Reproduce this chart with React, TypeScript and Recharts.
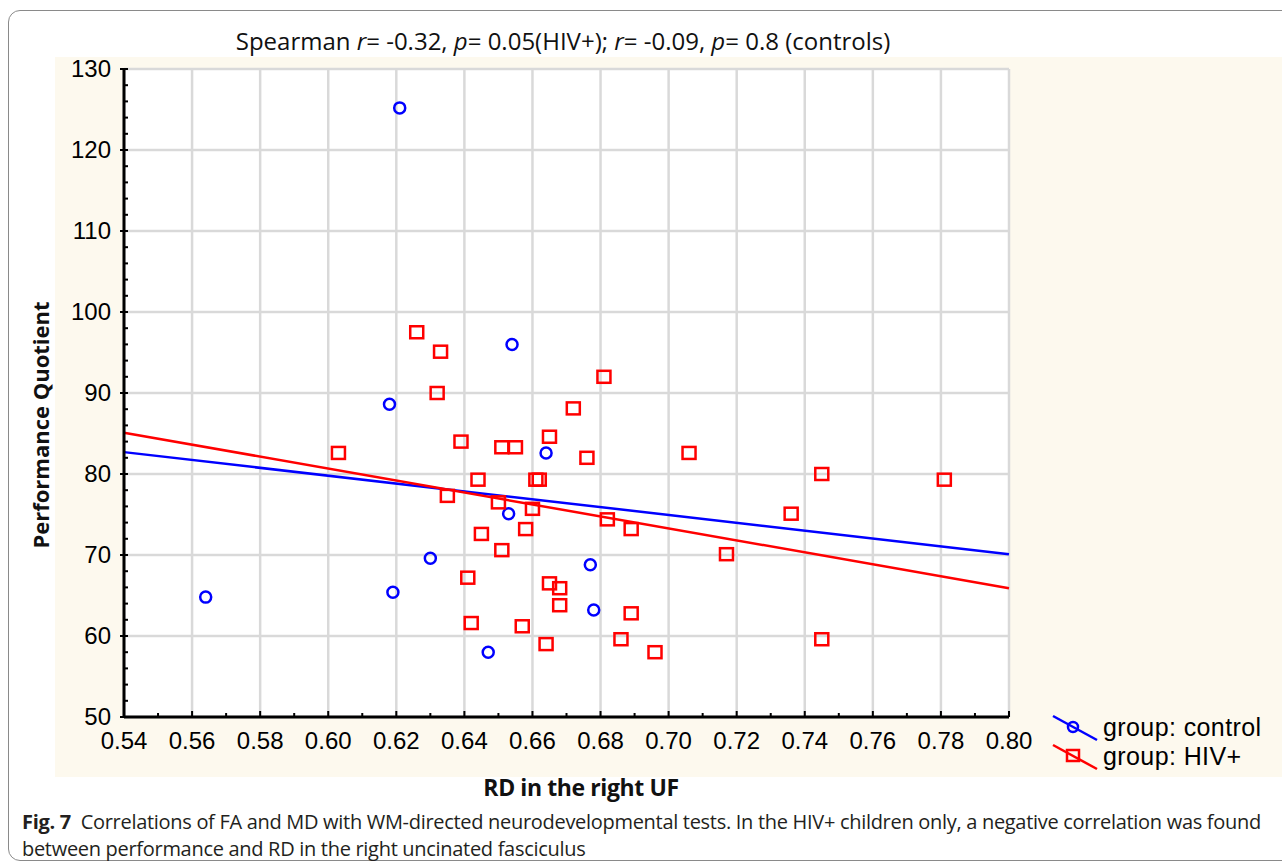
import React from 'react';
import { ScatterChart, Scatter, XAxis, YAxis, CartesianGrid, ReferenceLine } from 'recharts';

// RD in the right UF vs performance quotient
const controlRD = [0.621, 0.618, 0.654, 0.664, 0.653, 0.630, 0.619, 0.564, 0.677, 0.678, 0.647];
const controlPQ = [125.2, 88.6, 96.0, 82.6, 75.1, 69.6, 65.4, 64.8, 68.8, 63.2, 58.0];

const hivRD = [
  0.626, 0.633, 0.632, 0.681, 0.672, 0.665, 0.639, 0.651, 0.655, 0.603, 0.676, 0.706, 0.745,
  0.781, 0.644, 0.661, 0.662, 0.635, 0.650, 0.660, 0.682, 0.736, 0.689, 0.658, 0.645, 0.651,
  0.717, 0.641, 0.665, 0.668, 0.668, 0.689, 0.642, 0.657, 0.686, 0.664, 0.696, 0.745,
];
const hivPQ = [
  97.5, 95.1, 90.0, 92.0, 88.1, 84.6, 84.0, 83.3, 83.3, 82.6, 82.0, 82.6, 80.0,
  79.3, 79.3, 79.3, 79.3, 77.3, 76.5, 75.7, 74.4, 75.1, 73.2, 73.2, 72.6, 70.6,
  70.1, 67.2, 66.5, 65.9, 63.8, 62.8, 61.6, 61.2, 59.6, 59.0, 58.0, 59.6,
];

// fitted lines, read at both ends of the x range
const controlFit = [82.7, 70.1];
const hivFit = [85.1, 65.9];

const xMajor = ['0.54', '0.56', '0.58', '0.60', '0.62', '0.64', '0.66', '0.68', '0.70', '0.72', '0.74', '0.76', '0.78', '0.80'];
const xAll = ['0.54', '0.55', '0.56', '0.57', '0.58', '0.59', '0.60', '0.61', '0.62', '0.63', '0.64', '0.65', '0.66', '0.67', '0.68', '0.69', '0.70', '0.71', '0.72', '0.73', '0.74', '0.75', '0.76', '0.77', '0.78', '0.79', '0.80'];
const yMajor = [50, 60, 70, 80, 90, 100, 110, 120, 130];
const yAll = [50, 52, 54, 56, 58, 60, 62, 64, 66, 68, 70, 72, 74, 76, 78, 80, 82, 84, 86, 88, 90, 92, 94, 96, 98, 100, 102, 104, 106, 108, 110, 112, 114, 116, 118, 120, 122, 124, 126, 128, 130];

const xMajorNum = xMajor.map(Number);
const xAllNum = xAll.map(Number);
const X_DOMAIN: [number, number] = [0.54, 0.8];
const Y_DOMAIN: [number, number] = [50, 130];

const controlData = controlRD.map((x, i) => ({ x, y: controlPQ[i] }));
const hivData = hivRD.map((x, i) => ({ x, y: hivPQ[i] }));

const BLUE = '#0000ff';
const RED = '#ff0000';
const TICK_FONT = '"Liberation Sans", Arial, sans-serif';
const TEXT_FONT = '"Open Sans", sans-serif';

const isMajorX = (v: number) => xMajorNum.some((m) => Math.abs(m - v) < 1e-6);

const BottomTick = (props: any) => {
  const { x, y, payload } = props;
  const major = isMajorX(payload.value);
  return (
    <g>
      <line x1={x} x2={x} y1={y} y2={y - (major ? 6 : 4)} stroke="#000" strokeWidth={2} />
      {major && (
        <text x={x} y={y + 32} textAnchor="middle" fontSize={24} fontFamily={TICK_FONT} fill="#000">
          {payload.value.toFixed(2)}
        </text>
      )}
    </g>
  );
};

const TopTick = (props: any) => {
  const { x, y, payload } = props;
  const major = isMajorX(payload.value);
  return <line x1={x} x2={x} y1={y} y2={y + (major ? 5 : 4)} stroke="#000" strokeWidth={2} />;
};

const LeftTick = (props: any) => {
  const { x, y, payload } = props;
  const major = payload.value % 10 === 0;
  return (
    <g>
      <line x1={major ? x - 4 : x} x2={x + 4} y1={y} y2={y} stroke="#000" strokeWidth={2} />
      {major && (
        <text x={x - 13} y={y + 8} textAnchor="end" fontSize={24} fontFamily={TICK_FONT} fill="#000">
          {payload.value}
        </text>
      )}
    </g>
  );
};

const RightTick = (props: any) => {
  const { x, y } = props;
  return <line x1={x + 2} x2={x - 4} y1={y} y2={y} stroke="#000" strokeWidth={2} />;
};

const Circle = (props: any) => {
  const { cx, cy } = props;
  return <circle cx={cx} cy={cy} r={5.5} fill="none" stroke={BLUE} strokeWidth={2.5} />;
};

const Square = (props: any) => {
  const { cx, cy } = props;
  return <rect x={cx - 6.5} y={cy - 6} width={13} height={12} fill="none" stroke={RED} strokeWidth={2.5} />;
};

// grid only at the labelled ticks, mapped onto the plot area
const gridX = ({ offset }: any) =>
  offset ? xMajorNum.map((v) => offset.left + ((v - X_DOMAIN[0]) / (X_DOMAIN[1] - X_DOMAIN[0])) * offset.width) : [];
const gridY = ({ offset }: any) =>
  offset ? yMajor.map((v) => offset.top + ((Y_DOMAIN[1] - v) / (Y_DOMAIN[1] - Y_DOMAIN[0])) * offset.height) : [];

const LegendIcon = ({ color, kind }: { color: string; kind: 'circle' | 'square' }) => (
  <svg width={48} height={28} style={{ display: 'block' }}>
    <line x1={2} y1={2} x2={46} y2={26} stroke={color} strokeWidth={2.5} />
    {kind === 'circle' ? (
      <circle cx={22} cy={13} r={5} fill="none" stroke={color} strokeWidth={2.5} />
    ) : (
      <rect x={16} y={7} width={12} height={11} fill="none" stroke={color} strokeWidth={2.5} />
    )}
  </svg>
);

const legendItems = [
  { label: 'group: control', color: BLUE, kind: 'circle' as const },
  { label: 'group: HIV+', color: RED, kind: 'square' as const },
];

export default function App() {
  return (
    <div style={{ position: 'absolute', left: 0, top: 0, width: 1282, height: 864, background: '#fff', overflow: 'hidden' }}>
      {/* figure frame */}
      <div
        style={{
          position: 'absolute',
          left: 8,
          top: 10,
          width: 1300,
          height: 849,
          border: '1.5px solid #8a8a8a',
          borderRadius: 12,
        }}
      />
      {/* cream panel */}
      <div style={{ position: 'absolute', left: 55, top: 57, width: 1227, height: 720, background: '#fdf9ee' }} />

      <div
        style={{
          position: 'absolute',
          left: 0,
          top: 24,
          width: 1126,
          textAlign: 'center',
          fontFamily: TEXT_FONT,
          fontSize: 24,
          color: '#111',
          whiteSpace: 'nowrap',
        }}
      >
        Spearman <i>r</i>= -0.32, <i>p</i>= 0.05(HIV+); <i>r</i>= -0.09, <i>p</i>= 0.8 (controls)
      </div>

      <div style={{ position: 'absolute', left: 0, top: 0 }}>
        <ScatterChart width={1282} height={864} margin={{ top: 69, right: 273, bottom: 107, left: 64 }}>
          <CartesianGrid
            xAxisId="x"
            yAxisId="y"
            fill="#fff"
            stroke="#d9d9d9"
            strokeWidth={2.5}
            verticalCoordinatesGenerator={gridX}
            horizontalCoordinatesGenerator={gridY}
          />
          <XAxis
            xAxisId="x"
            type="number"
            dataKey="x"
            domain={X_DOMAIN}
            ticks={xAllNum}
            interval={0}
            height={40}
            tickSize={0}
            tickMargin={0}
            tickLine={false}
            axisLine={{ stroke: '#000', strokeWidth: 3 }}
            tick={<BottomTick />}
          />
          <XAxis
            xAxisId="xt"
            orientation="top"
            type="number"
            dataKey="x"
            domain={X_DOMAIN}
            ticks={xAllNum}
            interval={0}
            height={0}
            tickSize={0}
            tickMargin={0}
            tickLine={false}
            axisLine={{ stroke: '#000', strokeWidth: 3 }}
            tick={<TopTick />}
          />
          <YAxis
            yAxisId="y"
            type="number"
            dataKey="y"
            domain={Y_DOMAIN}
            ticks={yAll}
            interval={0}
            width={60}
            tickSize={0}
            tickMargin={0}
            tickLine={false}
            axisLine={{ stroke: '#000', strokeWidth: 3 }}
            tick={<LeftTick />}
          />
          <YAxis
            yAxisId="yr"
            orientation="right"
            type="number"
            dataKey="y"
            domain={Y_DOMAIN}
            ticks={yAll}
            interval={0}
            width={0}
            tickSize={0}
            tickMargin={0}
            tickLine={false}
            axisLine={{ stroke: '#000', strokeWidth: 3 }}
            tick={<RightTick />}
          />
          <ReferenceLine
            xAxisId="x"
            yAxisId="y"
            segment={[
              { x: X_DOMAIN[0], y: controlFit[0] },
              { x: X_DOMAIN[1], y: controlFit[1] },
            ]}
            stroke={BLUE}
            strokeWidth={2.5}
          />
          <ReferenceLine
            xAxisId="x"
            yAxisId="y"
            segment={[
              { x: X_DOMAIN[0], y: hivFit[0] },
              { x: X_DOMAIN[1], y: hivFit[1] },
            ]}
            stroke={RED}
            strokeWidth={2.5}
          />
          <Scatter name="group: control" data={controlData} xAxisId="x" yAxisId="y" shape={<Circle />} isAnimationActive={false} />
          <Scatter name="group: HIV+" data={hivData} xAxisId="x" yAxisId="y" shape={<Square />} isAnimationActive={false} />
        </ScatterChart>
      </div>

      {/* legend */}
      <div style={{ position: 'absolute', left: 1051, top: 713 }}>
        {legendItems.map((it) => (
          <div key={it.label} style={{ display: 'flex', alignItems: 'center', height: 29 }}>
            <LegendIcon color={it.color} kind={it.kind} />
            <span style={{ marginLeft: 4, fontFamily: TICK_FONT, fontSize: 25, letterSpacing: 0.4, color: '#000', whiteSpace: 'nowrap' }}>
              {it.label}
            </span>
          </div>
        ))}
      </div>

      {/* axis titles */}
      <div
        style={{
          position: 'absolute',
          left: 40,
          top: 425,
          transform: 'translate(-50%, -50%) rotate(-90deg)',
          fontFamily: TEXT_FONT,
          fontWeight: 700,
          fontSize: 22,
          color: '#111',
          whiteSpace: 'nowrap',
        }}
      >
        Performance Quotient
      </div>
      <div
        style={{
          position: 'absolute',
          left: 581,
          top: 787,
          transform: 'translate(-50%, -50%)',
          fontFamily: TEXT_FONT,
          fontWeight: 700,
          fontSize: 23,
          letterSpacing: -0.4,
          color: '#111',
          whiteSpace: 'nowrap',
        }}
      >
        RD in the right UF
      </div>

      {/* caption */}
      <div
        style={{
          position: 'absolute',
          left: 22,
          top: 808,
          fontFamily: TEXT_FONT,
          fontSize: 20,
          letterSpacing: -0.3,
          lineHeight: '27px',
          color: '#231f20',
          whiteSpace: 'nowrap',
        }}
      >
        <div>
          <b>Fig. 7</b>&nbsp; Correlations of FA and MD with WM-directed neurodevelopmental tests. In the HIV+ children only, a negative correlation was found
        </div>
        <div>between performance and RD in the right uncinated fasciculus</div>
      </div>
    </div>
  );
}
